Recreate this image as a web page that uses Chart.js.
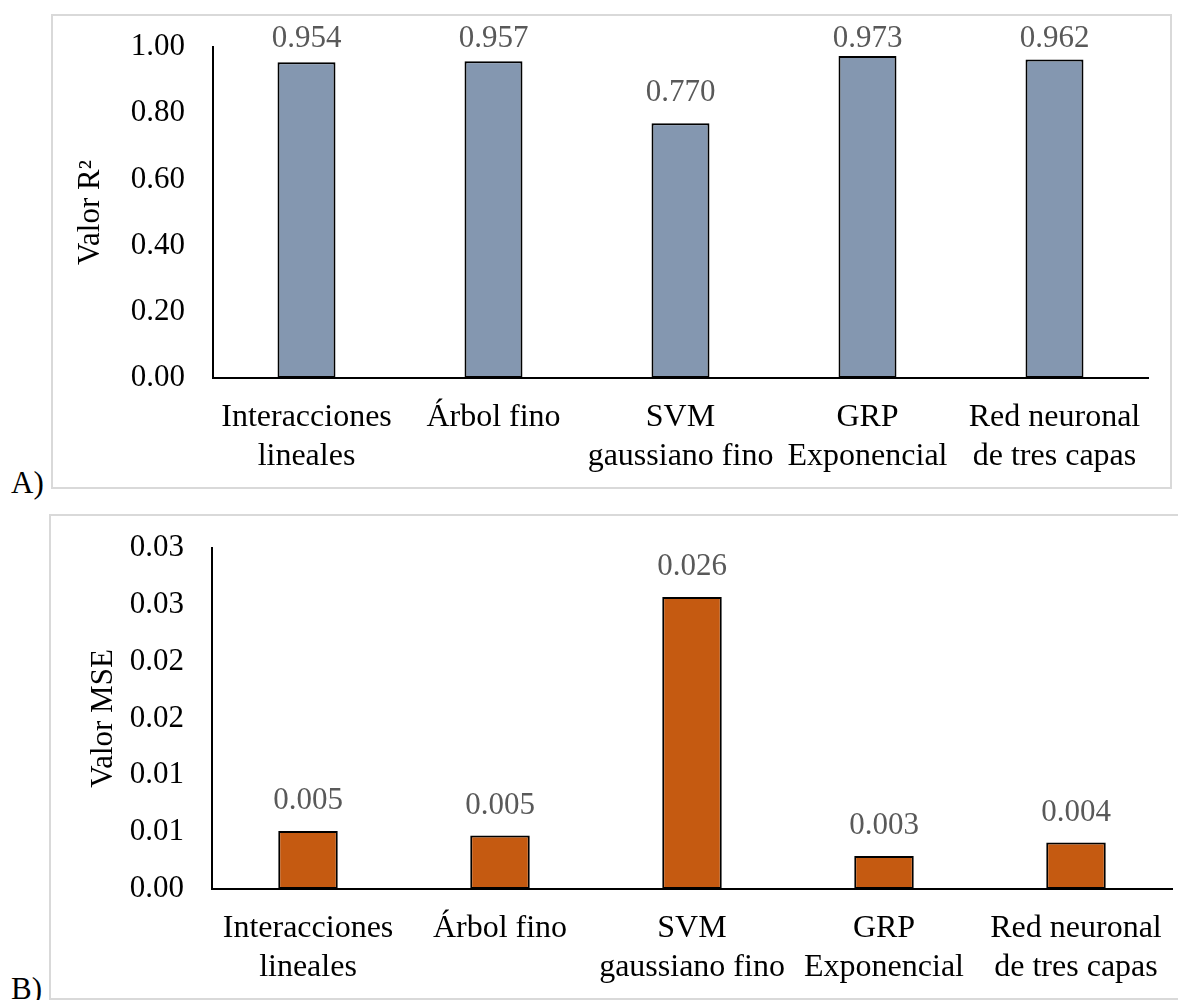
<!DOCTYPE html>
<html>
<head>
<meta charset="utf-8">
<script src="https://cdn.jsdelivr.net/npm/chart.js@4/dist/chart.umd.min.js"></script>
<style>
  html, body { margin: 0; padding: 0; background: #fff; }
  body { width: 1178px; height: 1000px; position: relative; overflow: hidden;
         font-family: 'Liberation Serif', 'Times New Roman', serif; }
  .frame { position: absolute; border: 2px solid #d9d9d9; box-sizing: border-box; }
  .tag { position: absolute; font-size: 31px; color: #000; line-height: 1; }
  canvas { position: absolute; }
</style>
</head>
<body>
<div class="frame" style="left:51px;top:14px;width:1121px;height:475px;"></div>
<div class="frame" style="left:49px;top:514px;width:1140px;height:486px;"></div>
<canvas id="chartA" width="1118" height="472" style="left:52px;top:15px;"></canvas>
<canvas id="chartB" width="1128" height="483" style="left:50px;top:515px;"></canvas>
<div class="tag" style="left:11px;top:467px;">A)</div>
<div class="tag" style="left:11px;top:973px;">B)</div>
<script>
// Models compared
const categories = [
  ["Interacciones", "lineales"],
  ["Árbol fino"],
  ["SVM", "gaussiano fino"],
  ["GRP", "Exponencial"],
  ["Red neuronal", "de tres capas"]
];

// Coefficient of determination per model
const r2Values = [0.954, 0.957, 0.770, 0.973, 0.962];

// Mean squared error per model
const mseValues = [0.0051, 0.0047, 0.0257, 0.0029, 0.0041];

// Axis ranges
const r2Axis = { min: 0, max: 1.0, step: 0.2 };
const mseAxis = { min: 0, max: 0.03, step: 0.005 };

const FONT = "'Liberation Serif', 'Times New Roman', serif";
const FONT_SIZE = 31;

// Round half up to two decimals for axis labels
function fmt2(v) {
  return (Math.floor(v * 100 + 0.5 + 1e-9) / 100).toFixed(2);
}

// Value labels above each bar
const valueLabels = {
  id: 'valueLabels',
  afterDatasetsDraw(chart) {
    const ctx = chart.ctx;
    const meta = chart.getDatasetMeta(0);
    const data = chart.data.datasets[0].data;
    ctx.save();
    ctx.font = FONT_SIZE + 'px ' + FONT;
    ctx.fillStyle = '#595959';
    ctx.textAlign = 'center';
    ctx.textBaseline = 'middle';
    meta.data.forEach((bar, i) => {
      const y = Math.max(bar.y - 30, chart.chartArea.top - 8);
      ctx.fillText(data[i].toFixed(3), bar.x, y);
    });
    ctx.restore();
  }
};

function makeChart(id, values, axis, color, yTitle, pad, yWidth) {
  return new Chart(document.getElementById(id), {
    type: 'bar',
    data: {
      labels: categories,
      datasets: [{
        data: values,
        backgroundColor: color,
        borderColor: '#000',
        borderWidth: 2,
        borderSkipped: false,
        categoryPercentage: 1.0,
        barPercentage: 0.31
      }]
    },
    options: {
      responsive: false,
      animation: false,
      events: [],
      layout: { padding: pad },
      plugins: { legend: { display: false }, tooltip: { enabled: false } },
      scales: {
        x: {
          grid: { display: false, drawTicks: false },
          border: { display: true, color: '#000', width: 2 },
          ticks: {
            color: '#000',
            font: { family: FONT, size: 32, lineHeight: 1.19 },
            padding: 21,
            autoSkip: false,
            maxRotation: 0,
            minRotation: 0
          },
          afterFit(scale) {
            scale.height = 109;
            // plot edges are set by the layout padding alone
            scale.paddingLeft = 0;
            scale.paddingRight = 0;
          }
        },
        y: {
          min: axis.min,
          max: axis.max,
          grid: { display: false, drawTicks: false },
          border: { display: true, color: '#000', width: 2 },
          ticks: {
            stepSize: axis.step,
            color: '#000',
            font: { family: FONT, size: FONT_SIZE },
            padding: 28,
            callback: (v) => fmt2(v)
          },
          title: {
            display: true,
            text: yTitle,
            color: '#000',
            font: { family: FONT, size: FONT_SIZE, lineHeight: 1.2 },
            padding: { top: 0, bottom: 0 }
          },
          afterFit(scale) {
            scale.width = yWidth;
            scale.paddingTop = 0;
            scale.paddingBottom = 0;
          }
        }
      }
    },
    plugins: [valueLabels]
  });
}

makeChart('chartA', r2Values, r2Axis, '#8497b0', 'Valor R²',
  { left: 20, right: 22, top: 32, bottom: 0 }, 141);
makeChart('chartB', mseValues, mseAxis, '#c55a11', 'Valor MSE',
  { left: 35, right: 6, top: 33, bottom: 0 }, 127);
</script>
</body>
</html>
